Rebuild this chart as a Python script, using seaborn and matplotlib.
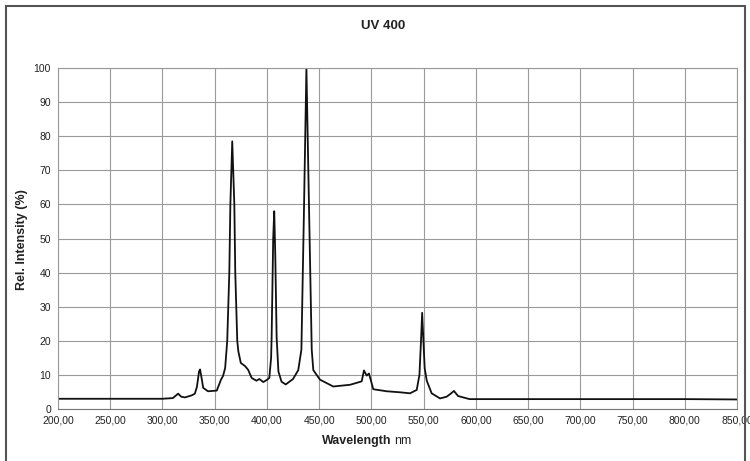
import matplotlib
matplotlib.use("Agg")
import matplotlib.pyplot as plt
import seaborn as sns
import pandas as pd
from matplotlib.patches import Rectangle

# ---- data ----
wavelength = [200, 300, 310, 315, 318, 321.6, 328, 331, 333, 335, 336, 337.5, 339,
              343.6, 352, 356, 358, 360, 362, 364, 365, 366.8, 368.8, 369.7, 371.6,
              372.6, 375, 379, 382, 385.4, 390, 392.7, 396.5, 399.8, 402.3, 404,
              404.5, 406, 407, 408, 409.3, 411, 414, 418, 425, 430, 433, 435.5,
              437.8, 440.3, 442.9, 444.4, 450.8, 463.5, 479.5, 490.7, 492.9, 495.5,
              497.7, 499.6, 501.8, 514.6, 527.4, 537, 543.4, 546, 547.5, 548.6,
              549.8, 551, 553, 557.7, 565.7, 572, 576, 579, 583, 594, 700, 800, 850]
intensity = [3.0, 3.0, 3.2, 4.5, 3.6, 3.4, 4.0, 4.5, 6.5, 11.0, 11.6, 9.0, 6.2,
             5.2, 5.4, 8.6, 9.7, 12.0, 20.0, 40.0, 60.0, 78.5, 60.0, 40.0, 20.0,
             17.0, 13.5, 12.6, 11.5, 9.1, 8.3, 8.8, 7.9, 8.5, 9.1, 15.0,
             21.0, 50.0, 58.0, 45.0, 21.0, 11.0, 8.0, 7.2, 8.8, 11.4, 17.4, 59.0,
             100.0, 59.0, 17.4, 11.4, 8.6, 6.6, 7.1, 8.1, 11.3, 9.8,
             10.4, 8.3, 5.8, 5.2, 4.9, 4.6, 5.6, 10.0, 20.0, 28.2,
             20.0, 12.0, 8.3, 4.6, 3.1, 3.6, 4.5, 5.3, 3.8, 2.9, 2.9, 2.9, 2.8]

x_ticks = [200, 250, 300, 350, 400, 450, 500, 550, 600, 650, 700, 750, 800, 850]
x_tick_labels = ["200,00", "250,00", "300,00", "350,00", "400,00", "450,00", "500,00",
                 "550,00", "600,00", "650,00", "700,00", "750,00", "800,00", "850,00"]
y_ticks = [0, 10, 20, 30, 40, 50, 60, 70, 80, 90, 100]

title = "UV 400"
y_label = "Rel. Intensity (%)"

df = pd.DataFrame({"wavelength": wavelength, "intensity": intensity})

sns.set_theme(style="white")
plt.rcParams["font.family"] = ["Liberation Sans", "DejaVu Sans"]

fig = plt.figure(figsize=(7.5, 4.61), dpi=100)
ax = fig.add_axes([58 / 750, 1 - 409 / 461, (737 - 58) / 750, (409 - 68) / 461])

sns.lineplot(data=df, x="wavelength", y="intensity", ax=ax, color="#111111",
             linewidth=1.3, sort=True)

ax.set_xlim(200, 850)
ax.set_ylim(0, 100)
ax.set_xticks(x_ticks)
ax.set_xticklabels(x_tick_labels)
ax.set_yticks(y_ticks)
ax.tick_params(axis="both", labelsize=7.5, colors="#222222", length=3, width=0.8,
               direction="out", color="#888888", pad=2)
ax.grid(True, color="#9a9a9a", linewidth=0.8)
for s in ax.spines.values():
    s.set_color("#9a9a9a")
    s.set_linewidth(0.8)
ax.spines["bottom"].set_color("#777777")

ax.set_xlabel("")
ax.set_ylabel("")
fig.text(22 / 750, 1 - 240 / 461, y_label, ha="center", va="center", rotation=90,
         fontsize=9, fontweight="bold", color="#222222")

fig.text(383 / 750, 1 - 26 / 461, title, ha="center", va="center",
         fontsize=9.5, fontweight="bold", color="#222222")
fig.text(391 / 750, 1 - 441 / 461, "Wavelength", ha="right", va="center",
         fontsize=9, fontweight="bold", color="#222222")
fig.text(394 / 750, 1 - 441 / 461, "nm", ha="left", va="center",
         fontsize=9, color="#222222")

fig.patches.append(Rectangle((6 / 750, -0.05), (745 - 6) / 750, 1.05 - 6 / 461,
                             transform=fig.transFigure, fill=False,
                             edgecolor="#555555", linewidth=1.5))

fig.savefig("out.png", dpi=100)
